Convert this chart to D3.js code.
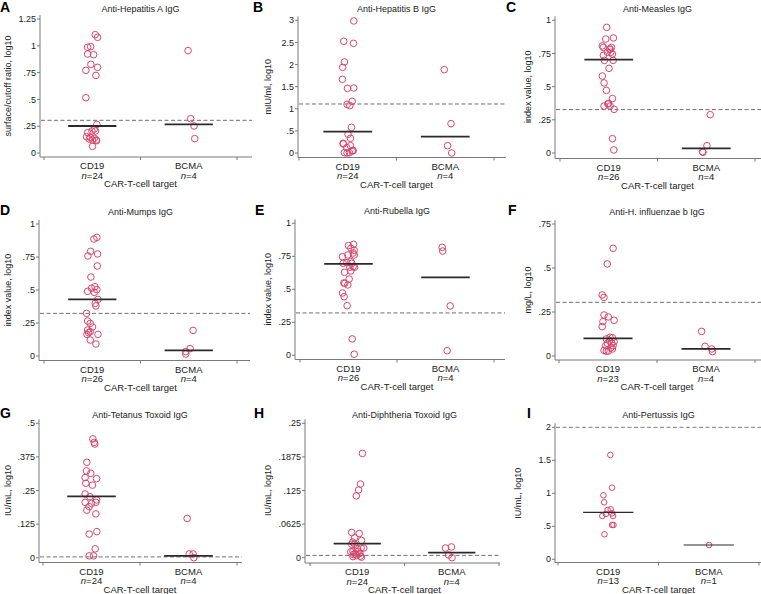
<!DOCTYPE html>
<html><head><meta charset="utf-8">
<script src="https://cdn.jsdelivr.net/npm/d3@7"></script>
<style>
body{margin:0;background:#fff}
svg{display:block}
text{font-family:"Liberation Sans",Arial,Helvetica,sans-serif;fill:#222}
</style>
</head><body>
<svg id="chart" width="761" height="594"></svg>
<script>
// ---------------- DATA ----------------
const categories = ["CD19", "BCMA"];
const panelLetters = ["A","B","C","D","E","F","G","H","I"];
const titles = ["Anti-Hepatitis A IgG","Anti-Hepatitis B IgG","Anti-Measles IgG","Anti-Mumps IgG","Anti-Rubella IgG","Anti-H. influenzae b IgG","Anti-Tetanus Toxoid IgG","Anti-Diphtheria Toxoid IgG","Anti-Pertussis IgG"];
const yTitles = ["surface/cutoff ratio, log10","mIU/ml, log10","index value, log10","index value, log10","index value, log10","mg/L, log10","IU/mL, log10","IU/mL, log10","IU/mL, log10"];
const xTitle = "CAR-T-cell target";
const nCD19 = [24,24,26,26,26,23,24,24,13];
const nBCMA = [4,4,4,4,4,4,4,4,1];
const tickValues = [
  [0,0.25,0.5,0.75,1,1.25],
  [0,0.5,1,1.5,2,2.5,3],
  [0,0.25,0.5,0.75,1],
  [0,0.25,0.5,0.75,1],
  [0,0.25,0.5,0.75,1],
  [0,0.25,0.5,0.75],
  [0,0.125,0.25,0.375,0.5],
  [0,0.0625,0.125,0.1875,0.25],
  [0,0.5,1,1.5,2]
];
const tickLabels = [
  ["0",".25",".5",".75","1","1.25"],
  ["0",".5","1","1.5","2","2.5","3"],
  ["0",".25",".5",".75","1"],
  ["0",".25",".5",".75","1"],
  ["0",".25",".5",".75","1"],
  ["0",".25",".5",".75"],
  ["0",".125",".25",".375",".5"],
  ["0",".0625",".125",".1875",".25"],
  ["0",".5","1","1.5","2"]
];
const cutoffs = [0.305,1.108,0.327,0.323,0.321,0.305,0.003,0.0043,2];
const mediansCD19 = [0.252,0.482,0.704,0.429,0.692,0.100,0.228,0.026,0.712];
const mediansBCMA = [0.267,0.369,0.035,0.043,0.591,0.040,0.007,0.0093,0.217];

// CD19 values and horizontal jitter (category units)
const hepA_cd19 = [1.104,1.079,0.992,0.986,0.923,0.917,0.827,0.799,0.771,0.724,0.516,0.267,0.224,0.205,0.205,0.19,0.152,0.146,0.137,0.13,0.121,0.121,0.115,0.062];
const hepA_cd19_jit = [.031,.055,-.017,-.048,-.048,.014,-.014,.055,-.066,.038,-.066,.048,.021,-.003,.034,-.048,-.059,-.021,.021,-.031,.041,.003,.045,.003];
const hepA_bcma = [0.955,0.32,0.252,0.134];
const hepA_bcma_jit = [-.007,.02,.055,.062];

const hepB_cd19 = [2.985,2.525,2.48,2.058,1.937,1.666,1.462,1.47,1.168,1.1,1.07,0.58,0.422,0.332,0.219,0.204,0.166,0.121,0.06,0.045,0.008,0,0.008,0.053];
const hepB_cd19_jit = [.062,-.041,.059,-.034,-.052,-.055,-.003,.062,.045,-.007,.021,.038,.003,.028,-.048,-.045,.028,-.01,.052,.045,-.034,-.007,.017,.055];
const hepB_bcma = [1.884,0.663,0.166,0];
const hepB_bcma_jit = [-.01,.059,.024,.066];

const measles_cd19 = [0.947,0.859,0.867,0.807,0.796,0.796,0.781,0.759,0.746,0.736,0.759,0.698,0.698,0.638,0.58,0.528,0.472,0.41,0.369,0.354,0.354,0.329,0.108,0.023,0.374,0.784];
const measles_cd19_jit = [-.021,-.031,.048,-.066,-.055,.028,.01,-.014,.038,-.055,.021,-.045,.045,.003,-.066,-.048,-.024,.038,-.01,-.048,.014,.055,.038,.052,-.003,.014];
const measles_bcma = [0.289,0.055,0.01,0.005];
const measles_bcma_jit = [.041,.007,-.038,-.034];

const mumps_cd19 = [0.899,0.886,0.793,0.758,0.773,0.682,0.598,0.513,0.525,0.49,0.503,0.482,0.429,0.399,0.379,0.323,0.265,0.247,0.22,0.197,0.184,0.177,0.164,0.164,0.121,0.091];
const mumps_cd19_jit = [.048,.017,-.017,-.045,.055,.052,-.014,-.007,.028,-.048,.048,.021,.059,.031,.038,-.059,-.048,-.021,.003,-.048,-.021,-.038,-.055,.059,-.021,.038];
const mumps_bcma = [0.194,0.056,0.033,0.015];
const mumps_bcma_jit = [.045,.014,-.031,-.031];

const rubella_cd19 = [0.841,0.831,0.811,0.795,0.775,0.747,0.76,0.76,0.71,0.702,0.697,0.697,0.672,0.667,0.667,0.629,0.639,0.578,0.548,0.545,0.533,0.472,0.444,0.376,0.124,0.008];
const rubella_cd19_jit = [.052,0,.024,.059,.048,-.062,.059,-.007,.024,-.017,-.055,.034,.048,.014,.062,-.041,.024,.007,-.048,-.038,-.007,-.062,-.045,-.014,.038,.059];
const rubella_bcma = [0.818,0.79,0.374,0.035];
const rubella_bcma_jit = [-.034,-.028,.048,.017];

const hib_cd19 = [0.612,0.523,0.347,0.333,0.233,0.222,0.203,0.195,0.167,0.106,0.104,0.097,0.087,0.081,0.072,0.059,0.059,0.047,0.04,0.032,0.028,0.027,0.072];
const hib_cd19_jit = [.052,-.007,-.059,-.041,-.041,.003,.062,-.052,-.059,.021,.045,-.017,.017,.062,.038,-.024,.052,.028,.045,-.041,.003,-.017,-.007];
const hib_bcma = [0.14,0.055,0.04,0.025];
const hib_bcma_jit = [-.045,-.01,.059,.066];

const tetanus_cd19 = [0.442,0.429,0.423,0.355,0.323,0.314,0.298,0.294,0.277,0.27,0.237,0.227,0.215,0.206,0.206,0.202,0.19,0.177,0.163,0.097,0.088,0.033,0.007,0.007];
const tetanus_cd19_jit = [.014,.028,.034,-.048,-.052,-.007,-.066,.052,-.059,.01,-.066,-.017,.052,.045,-.066,0,-.024,-.048,.045,.055,-.024,.038,-.024,.021];
const tetanus_bcma = [0.146,0.014,0.014,0];
const tetanus_bcma_jit = [-.014,.007,.048,.055];

const diph_cd19 = [0.194,0.137,0.126,0.115,0.047,0.045,0.037,0.032,0.029,0.025,0.025,0.018,0.018,0.017,0.012,0.012,0.011,0.008,0.007,0.006,0.004,0.003,0.002,0.001];
const diph_cd19_jit = [.055,.034,.014,-.01,-.059,.021,-.028,.045,-.048,-.059,-.028,.041,.069,0,.01,-.045,-.069,.028,-.024,-.041,-.007,.034,-.045,.045];
const diph_bcma = [0.02,0.018,0.005,0];
const diph_bcma_jit = [-.003,-.066,-.034,.003];

const pert_cd19 = [1.581,1.086,0.97,0.864,0.758,0.747,0.697,0.687,0.657,0.657,0.52,0.52,0.379];
const pert_cd19_jit = [.021,.038,-.048,-.041,.024,-.007,.038,-.024,-.059,.048,.038,.052,-.038];
const pert_bcma = [0.217];
const pert_bcma_jit = [.003];

const cd19Series = [hepA_cd19,hepB_cd19,measles_cd19,mumps_cd19,rubella_cd19,hib_cd19,tetanus_cd19,diph_cd19,pert_cd19];
const cd19Jitter = [hepA_cd19_jit,hepB_cd19_jit,measles_cd19_jit,mumps_cd19_jit,rubella_cd19_jit,hib_cd19_jit,tetanus_cd19_jit,diph_cd19_jit,pert_cd19_jit];
const bcmaSeries = [hepA_bcma,hepB_bcma,measles_bcma,mumps_bcma,rubella_bcma,hib_bcma,tetanus_bcma,diph_bcma,pert_bcma];
const bcmaJitter = [hepA_bcma_jit,hepB_bcma_jit,measles_bcma_jit,mumps_bcma_jit,rubella_bcma_jit,hib_bcma_jit,tetanus_bcma_jit,diph_bcma_jit,pert_bcma_jit];

// ---------------- LAYOUT ----------------
const layout = [
  {lx:0,   ly:12,  left:40,  right:252, t0:44,  t2:237, top:19,  zero:153, axisY:157, titleY:11.5, ylabX:8},
  {lx:253, ly:12,  left:298, right:506, t0:299, t2:494, top:20.3,zero:153, axisY:157.5, titleY:11.5, ylabX:268},
  {lx:506, ly:12,  left:555, right:761, t0:560, t2:755, top:20.3,zero:153, axisY:158.5, titleY:11.5, ylabX:528},
  {lx:0,   ly:215, left:39,  right:250, t0:44,  t2:237, top:224, zero:356, axisY:360.5, titleY:215, ylabX:8},
  {lx:255, ly:215, left:295, right:505, t0:300, t2:494, top:223.3,zero:355.3, axisY:359.5, titleY:214, ylabX:268},
  {lx:508, ly:215, left:555, right:761, t0:559, t2:755, top:224, zero:356, axisY:360, titleY:215, ylabX:528},
  {lx:0,   ly:418, left:39,  right:242, t0:43,  t2:237, top:423.3,zero:557.7, axisY:562.5, titleY:417.5, ylabX:8},
  {lx:254, ly:418, left:305, right:500, t0:310, t2:499, top:423.3,zero:557.7, axisY:563, titleY:417.5, ylabX:268},
  {lx:527, ly:418, left:555, right:761, t0:558, t2:759, top:427.3,zero:559.3, axisY:562.5, titleY:417.5, ylabX:518}
];
const pointColor = "#d8466c";
const axisColor = "#7a7a7a";

const svg = d3.select("#chart");

layout.forEach((L, i) => {
  const g = svg.append("g");
  const small = i === 8;
  const x = d3.scaleLinear().domain([0.5, 2.5]).range([L.t0, L.t2]);
  const ticks = tickValues[i];
  const y = d3.scaleLinear().domain([0, ticks[ticks.length - 1]]).range([L.zero, L.top]);

  // panel letter
  g.append("text").attr("x", L.lx).attr("y", L.ly)
    .attr("font-size", 14).attr("font-weight", "bold").style("fill", "#000")
    .text(panelLetters[i]);
  // title
  g.append("text").attr("x", x(1.5)).attr("y", L.titleY)
    .attr("text-anchor", "middle").attr("font-size", 9).text(titles[i]);

  // y axis
  g.append("line").attr("x1", L.left).attr("x2", L.left)
    .attr("y1", L.top - 4).attr("y2", L.axisY)
    .attr("stroke", axisColor).attr("stroke-width", 1);
  ticks.forEach((t, k) => {
    g.append("line").attr("x1", L.left - 3).attr("x2", L.left)
      .attr("y1", y(t)).attr("y2", y(t))
      .attr("stroke", axisColor).attr("stroke-width", 1);
    g.append("text").attr("x", L.left - 4).attr("y", y(t)).attr("dy", "0.35em")
      .attr("text-anchor", "end").attr("font-size", 9).text(tickLabels[i][k]);
  });
  // y title
  const cy = (L.top + L.zero) / 2;
  g.append("text").attr("transform", `translate(${L.ylabX},${cy}) rotate(-90)`)
    .attr("dy", "0.35em").attr("text-anchor", "middle").attr("font-size", 9)
    .text(yTitles[i]);

  // x axis
  g.append("line").attr("x1", L.left).attr("x2", L.right)
    .attr("y1", L.axisY).attr("y2", L.axisY)
    .attr("stroke", axisColor).attr("stroke-width", 1);
  [0.5, 1.5, 2.5].forEach(t => {
    g.append("line").attr("x1", x(t)).attr("x2", x(t))
      .attr("y1", L.axisY).attr("y2", L.axisY + 3)
      .attr("stroke", axisColor).attr("stroke-width", 1);
  });
  const ns = [nCD19[i], nBCMA[i]];
  categories.forEach((c, k) => {
    g.append("text").attr("x", x(k + 1)).attr("y", L.axisY + 12)
      .attr("text-anchor", "middle").attr("font-size", 9.5).text(c);
    const t = g.append("text").attr("x", x(k + 1)).attr("y", L.axisY + 21.5)
      .attr("text-anchor", "middle").attr("font-size", 9.5);
    t.append("tspan").attr("font-style", "italic").text("n");
    t.append("tspan").text("=" + ns[k]);
  });
  g.append("text").attr("x", x(1.5)).attr("y", L.axisY + 30)
    .attr("text-anchor", "middle").attr("font-size", 9.5).text(xTitle);

  // cutoff dashed line
  g.append("line").attr("x1", L.left + 1).attr("x2", L.right)
    .attr("y1", y(cutoffs[i])).attr("y2", y(cutoffs[i]))
    .attr("stroke", "#6e6e6e").attr("stroke-width", small ? 0.9 : 1)
    .attr("stroke-dasharray", "4,2.5");

  // points
  const r = small ? 2.8 : 3.3;
  const groups = [[cd19Series[i], cd19Jitter[i], 1], [bcmaSeries[i], bcmaJitter[i], 2]];
  groups.forEach(([vals, jit, c]) => {
    g.selectAll(null).data(vals.map((v, k) => ({v, j: jit[k]}))).enter()
      .append("circle")
      .attr("cx", d => x(c + d.j)).attr("cy", d => y(d.v)).attr("r", r)
      .attr("fill", "none").attr("stroke", pointColor).attr("stroke-width", 1);
  });

  // medians
  [mediansCD19[i], mediansBCMA[i]].forEach((m, k) => {
    g.append("line").attr("x1", x(k + 1 - 0.25)).attr("x2", x(k + 1 + 0.25))
      .attr("y1", y(m)).attr("y2", y(m))
      .attr("stroke", "#2a2a2a").attr("stroke-width", small ? 1.2 : 1.8);
  });
});
</script>
</body></html>
